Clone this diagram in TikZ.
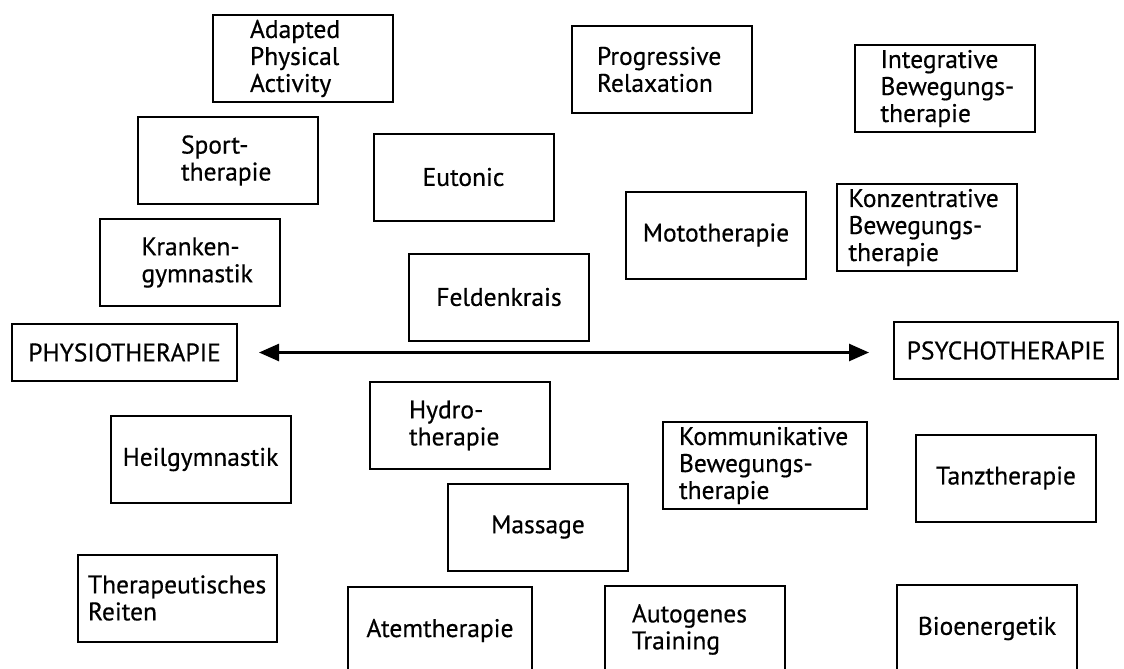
\documentclass[tikz,border=0pt]{standalone}
\usepackage{fontspec}
\setmainfont{PT Sans}[FakeBold=0.5]
\usetikzlibrary{arrows.meta}
\hyphenpenalty=10000
\exhyphenpenalty=10000
\begin{document}
\begin{tikzpicture}[
    x=1pt, y=-1pt,
    box/.style={draw, line width=2pt, minimum height=87pt, inner ysep=0pt,
        font=\fontsize{25.5}{27}\selectfont},
    pole/.style={box, minimum height=57pt},
    span/.style={line width=2.6pt,
        {Triangle[length=20pt,width=17pt]}-{Triangle[length=20pt,width=17pt]}},
  ]
  \clip (0,0) rectangle (1124,669);
  % therapy boxes: centre/name/width/left inset/alignment/text
  \foreach \pos/\name/\w/\ins/\al/\txt in {
    {(303,58.5)/apa/180/37/left/{Adapted\\Physical\\Activity}},
    {(228,160.5)/sport/180/43/left/{Sport-\\therapie}},
    {(463.5,177)/eutonic/180/4/center/{Eutonic}},
    {(189.5,262.5)/kranken/180/42/left/{Kranken-\\gymnastik}},
    {(499,297)/feld/180/4/center/{Feldenkrais}},
    {(662,69.5)/prog/180/25/left/{Progressive\\Relaxation}},
    {(944.5,88.5)/integ/180/26/left/{Integrative\\Bewegungs-\\therapie}},
    {(716,235)/moto/180/4/center/{Mototherapie}},
    {(926.5,227.5)/konz/180/12/left/{Konzentrative\\Bewegungs-\\therapie}},
    {(200.5,459.5)/heil/180/4/center/{Heilgymnastik}},
    {(460,425.5)/hydro/180/39/left/{Hydro-\\therapie}},
    {(538,527)/massage/180/4/center/{Massage}},
    {(177.5,598)/reiten/199/10/left/{Therapeutisches\\Reiten}},
    {(440,630.5)/atem/184/4/center/{Atemtherapie}},
    {(765,465.5)/kommun/204/16/left/{Kommunikative\\Bewegungs-\\therapie}},
    {(1006,478)/tanz/180/4/center/{Tanztherapie}},
    {(695,629.5)/autog/180/27/left/{Autogenes\\Training}},
    {(987,628.5)/bio/180/4/center/{Bioenergetik}}}
  {
    \pgfmathsetmacro\tw{\w-2*\ins}
    \node[box, inner xsep=\ins pt, text width=\tw pt, align=\al] (\name) at \pos {\txt};
  }
  % the two poles
  \node[pole, minimum width=225pt] (physio) at (124.5,352.5) {PHYSIOTHERAPIE};
  \node[pole, minimum width=224pt] (psycho) at (1006,350.5) {PSYCHOTHERAPIE};
  \draw[span, shorten <=21pt, shorten >=24pt] (physio.east) -- (physio.east -| psycho.west);
\end{tikzpicture}
\end{document}
